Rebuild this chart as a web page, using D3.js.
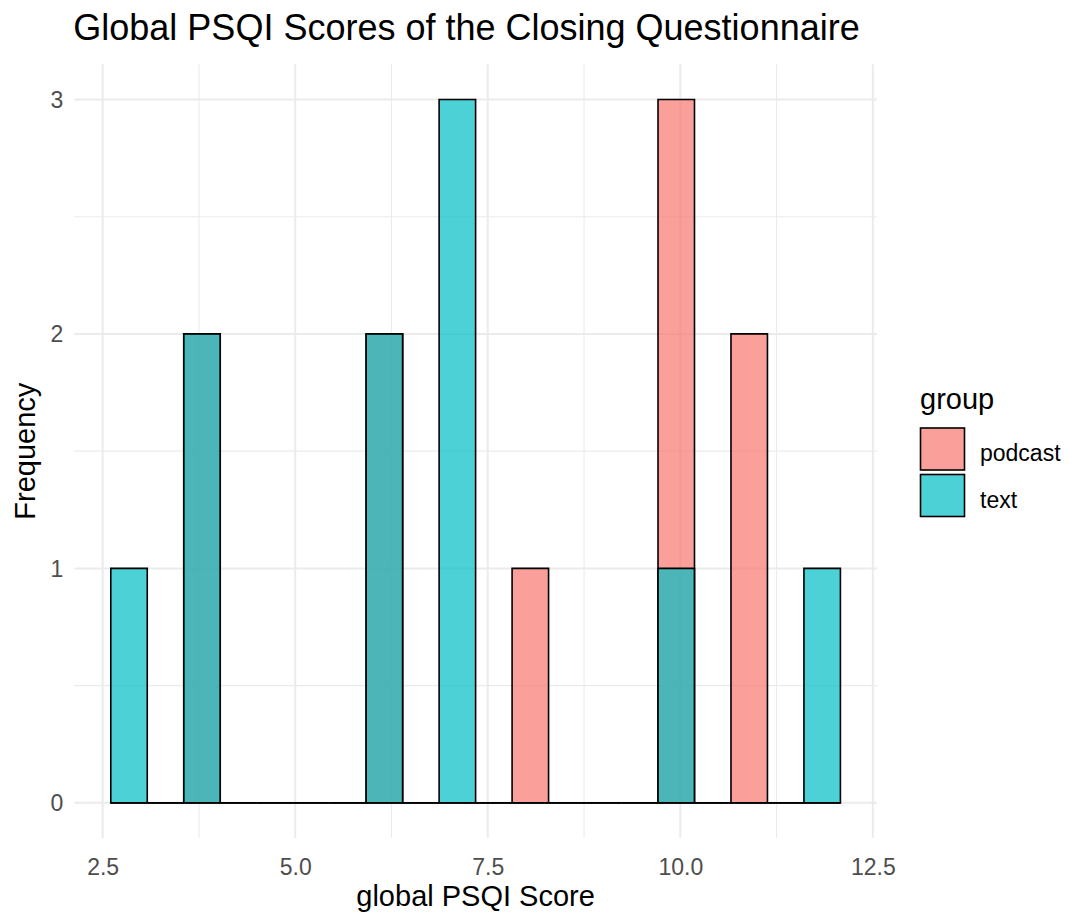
<!DOCTYPE html>
<html>
<head>
<meta charset="utf-8">
<script src="https://cdn.jsdelivr.net/npm/d3@7"></script>
<style>
  html, body { margin: 0; padding: 0; background: #fff; }
  svg { display: block; font-family: Arial, "Liberation Sans", sans-serif; }
</style>
</head>
<body>
<svg id="chart" width="1074" height="914"></svg>
<script>
// ---- data ----
const groups = ["podcast", "text"];
const groupColors = ["#F8766D", "#00BFC4"];
const podcastScores = [4, 4, 6, 6, 8, 10, 10, 10, 11, 11];
const textScores = [3, 4, 4, 6, 6, 7, 7, 7, 10, 12];
const nBins = 20;
const xTickValues = [2.5, 5.0, 7.5, 10.0, 12.5];
const xTickLabels = ["2.5", "5.0", "7.5", "10.0", "12.5"];
const xMinorValues = [3.75, 6.25, 8.75, 11.25];
const yTickValues = [0, 1, 2, 3];
const yTickLabels = ["0", "1", "2", "3"];
const yMinorValues = [0.5, 1.5, 2.5];
const titleText = "Global PSQI Scores of the Closing Questionnaire";
const xTitle = "global PSQI Score";
const yTitle = "Frequency";
const legendTitle = "group";

// ---- histogram breaks (ggplot2 bins= algorithm) ----
const allScores = podcastScores.concat(textScores);
const lo = d3.min(allScores), hi = d3.max(allScores);
const binWidth = (hi - lo) / (nBins - 1);
const boundary = binWidth / 2;
const origin = boundary + Math.floor((lo - boundary) / binWidth) * binWidth;
const maxX = hi + (1 - 1e-8) * binWidth;
const breaks = [];
for (let b = origin; b <= maxX + 1e-12; b += binWidth) breaks.push(b);
const first = breaks[0], last = breaks[breaks.length - 1];

const binner = d3.bin().domain([first, last]).thresholds(breaks.slice(1, -1));
const seriesData = [podcastScores, textScores].map((scores, gi) =>
  binner(scores).map(b => ({ group: groups[gi], x0: b.x0, x1: b.x1, count: b.length }))
);
const maxCount = d3.max(seriesData.flat(), d => d.count);

// ---- layout ----
const svg = d3.select("#chart");
const panel = { left: 74.3, right: 876.9, top: 64.3, bottom: 838 };
const xRange = last - first;
const x = d3.scaleLinear()
  .domain([first - 0.05 * xRange, last + 0.05 * xRange])
  .range([panel.left, panel.right]);
const y = d3.scaleLinear()
  .domain([-0.05 * maxCount, maxCount * 1.05])
  .range([panel.bottom, panel.top]);

const colorScale = d3.scaleOrdinal().domain(groups).range(groupColors);

// ---- grid ----
const grid = svg.append("g");
grid.selectAll(".xminor").data(xMinorValues).join("line")
  .attr("x1", d => x(d)).attr("x2", d => x(d))
  .attr("y1", panel.top).attr("y2", panel.bottom)
  .attr("stroke", "#EBEBEB").attr("stroke-width", 1.1);
grid.selectAll(".yminor").data(yMinorValues).join("line")
  .attr("class", "yminor")
  .attr("x1", panel.left).attr("x2", panel.right)
  .attr("y1", d => y(d)).attr("y2", d => y(d))
  .attr("stroke", "#EBEBEB").attr("stroke-width", 1.1);
grid.selectAll(".xmajor").data(xTickValues).join("line")
  .attr("class", "xmajor")
  .attr("x1", d => x(d)).attr("x2", d => x(d))
  .attr("y1", panel.top).attr("y2", panel.bottom)
  .attr("stroke", "#EBEBEB").attr("stroke-width", 2);
grid.selectAll(".ymajor").data(yTickValues).join("line")
  .attr("class", "ymajor")
  .attr("x1", panel.left).attr("x2", panel.right)
  .attr("y1", d => y(d)).attr("y2", d => y(d))
  .attr("stroke", "#EBEBEB").attr("stroke-width", 2);

// ---- bars ----
seriesData.forEach(series => {
  svg.append("g").selectAll("path").data(series).join("path")
    .attr("d", d => {
      const x0 = x(d.x0), x1 = x(d.x1), y0 = y(0), y1 = y(d.count);
      return `M${x0},${y0}H${x1}V${y1}H${x0}Z`;
    })
    .attr("fill", d => colorScale(d.group))
    .attr("fill-opacity", 0.7)
    .attr("stroke", "#000")
    .attr("stroke-width", 1.6)
    .attr("stroke-linejoin", "miter");
});

// ---- axes (labels only, theme_minimal) ----
const xAxis = d3.axisBottom(x).tickValues(xTickValues)
  .tickFormat((d, i) => xTickLabels[i]).tickSize(0).tickPadding(0);
const gx = svg.append("g").attr("transform", `translate(0,${panel.bottom})`).call(xAxis);
gx.select(".domain").remove();
gx.selectAll("text").attr("y", 0).attr("dy", null)
  .attr("transform", "translate(0,37)")
  .attr("font-size", 23).attr("fill", "#4D4D4D")
  .attr("font-family", "Arial, 'Liberation Sans', sans-serif");

const yAxis = d3.axisLeft(y).tickValues(yTickValues)
  .tickFormat((d, i) => yTickLabels[i]).tickSize(0).tickPadding(0);
const gy = svg.append("g").attr("transform", `translate(${panel.left - 11},0)`).call(yAxis);
gy.select(".domain").remove();
gy.selectAll("text").attr("x", 0).attr("dy", "0.35em")
  .attr("font-size", 23).attr("fill", "#4D4D4D")
  .attr("font-family", "Arial, 'Liberation Sans', sans-serif");

// ---- titles ----
svg.append("text").attr("x", panel.left - 1).attr("y", 40)
  .attr("font-size", 36).attr("fill", "#000").text(titleText);
svg.append("text").attr("x", (panel.left + panel.right) / 2).attr("y", 906)
  .attr("text-anchor", "middle").attr("font-size", 29).attr("fill", "#000").text(xTitle);
svg.append("text")
  .attr("transform", `translate(35,${(panel.top + panel.bottom) / 2}) rotate(-90)`)
  .attr("text-anchor", "middle").attr("font-size", 29).attr("fill", "#000").text(yTitle);

// ---- legend ----
const legend = svg.append("g");
legend.append("text").attr("x", 920).attr("y", 409)
  .attr("font-size", 29).attr("fill", "#000").text(legendTitle);
const keyY = [428, 474.5];
const labelY = [461, 507.5];
groups.forEach((g, i) => {
  legend.append("rect")
    .attr("x", 920.5).attr("y", keyY[i]).attr("width", 44).attr("height", 42)
    .attr("fill", colorScale(g)).attr("fill-opacity", 0.7)
    .attr("stroke", "#000").attr("stroke-width", 1.6);
  legend.append("text").attr("x", 980).attr("y", labelY[i])
    .attr("font-size", 23).attr("fill", "#000").text(g);
});
</script>
</body>
</html>
